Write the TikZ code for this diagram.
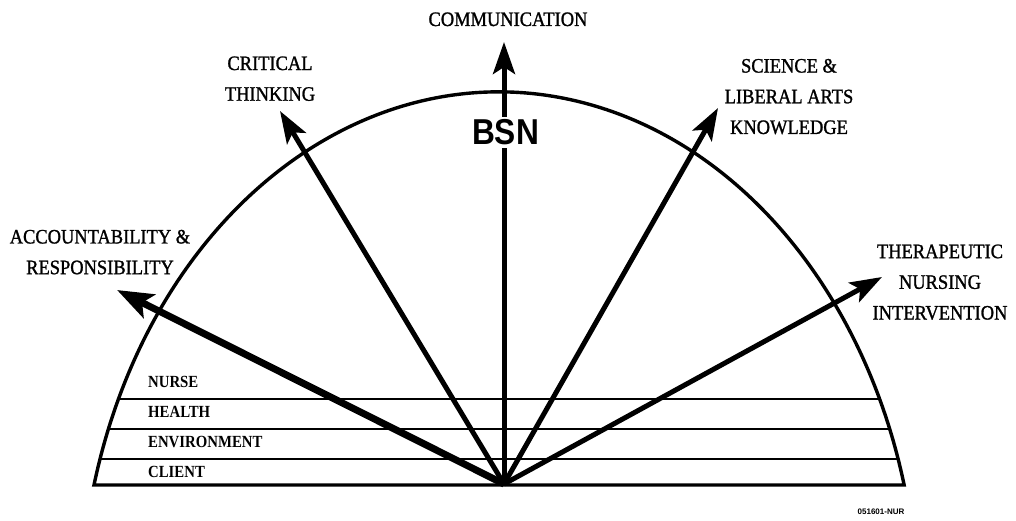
\documentclass[tikz,border=0pt]{standalone}
\usepackage{fontspec}
\setmainfont{Liberation Serif}
\newfontfamily\labelfont[FakeStretch=0.9, FakeBold=1.2]{Liberation Serif}
\newfontfamily\rowfont[FakeStretch=0.87]{Liberation Serif}
\newfontfamily\bsnfont[FakeStretch=0.88]{Liberation Sans}
\newfontfamily\tagfont{Liberation Sans}
\usetikzlibrary{arrows.meta}
\begin{document}
\begin{tikzpicture}[x=1pt,y=-1pt,
  toplabel/.style={font=\labelfont\fontsize{20.5}{30.7}\selectfont, align=center, inner sep=0pt},
  rowlabel/.style={font=\rowfont\bfseries\fontsize{17}{18}\selectfont, anchor=base west, inner sep=0pt},
  outline/.style={line width=3.4pt, line join=miter},
  band/.style={line width=2.2pt},
  vector/.style={line width=5pt, -{Stealth[length=32pt,width=22pt,inset=7pt]}},
  bigvector/.style={line width=7pt, -{Stealth[length=36pt,width=26pt,inset=8pt]}}]
\useasboundingbox (0,0) rectangle (1016,521);
\fill[white] (0,0) rectangle (1016,521);
% dome
\coordinate (bl) at (94,485);
\begin{scope}
  \clip (bl) arc[start angle=194.81,end angle=345.19,x radius=419,y radius=528] -- cycle;
  \foreach \yy in {399,429,459} \draw[band] (0,\yy) -- (1016,\yy);
\end{scope}
\draw[outline] (bl) arc[start angle=194.81,end angle=345.19,x radius=419,y radius=528] -- cycle;
% arrows
\coordinate (o) at (504,484);
\coordinate (tipCom) at (504,42);
\coordinate (tipCrit) at (280,111);
\coordinate (tipSci) at (718,108);
\coordinate (tipAcc) at (117,290);
\coordinate (tipTher) at (882,277);
\draw[vector] (o) -- (tipCom);
\draw[vector] (o) -- (tipCrit);
\draw[vector] (o) -- (tipSci);
\draw[bigvector] (o) -- (tipAcc);
\draw[vector] (o) -- (tipTher);
% BSN
\node[fill=white, inner sep=3pt, anchor=base, font=\bsnfont\bfseries\fontsize{36}{36}\selectfont] (bsn) at (505.5,145) {BSN};
% labels
\node[toplabel, anchor=base] (com) at (508,26) {COMMUNICATION};
\node[toplabel] (crit) at (270,78.7) {CRITICAL\\THINKING};
\node[toplabel] (acc) at (100,252.1) {ACCOUNTABILITY \&\\RESPONSIBILITY};
\node[toplabel] (ther) at (940,282.2) {THERAPEUTIC\\NURSING\\INTERVENTION};
\node[toplabel] (sci) at (789,96.6) {SCIENCE \&\\LIBERAL ARTS\\KNOWLEDGE};
% bands
\node[rowlabel] (nurse) at (148,387) {NURSE};
\node[rowlabel] (health) at (148,417) {HEALTH};
\node[rowlabel] (env) at (148,447) {ENVIRONMENT};
\node[rowlabel] (client) at (148,477) {CLIENT};
% tag
\node[font=\tagfont\bfseries\fontsize{8}{8}\selectfont, inner sep=0pt] (tag) at (881,512) {051601-NUR};
\end{tikzpicture}
\end{document}
